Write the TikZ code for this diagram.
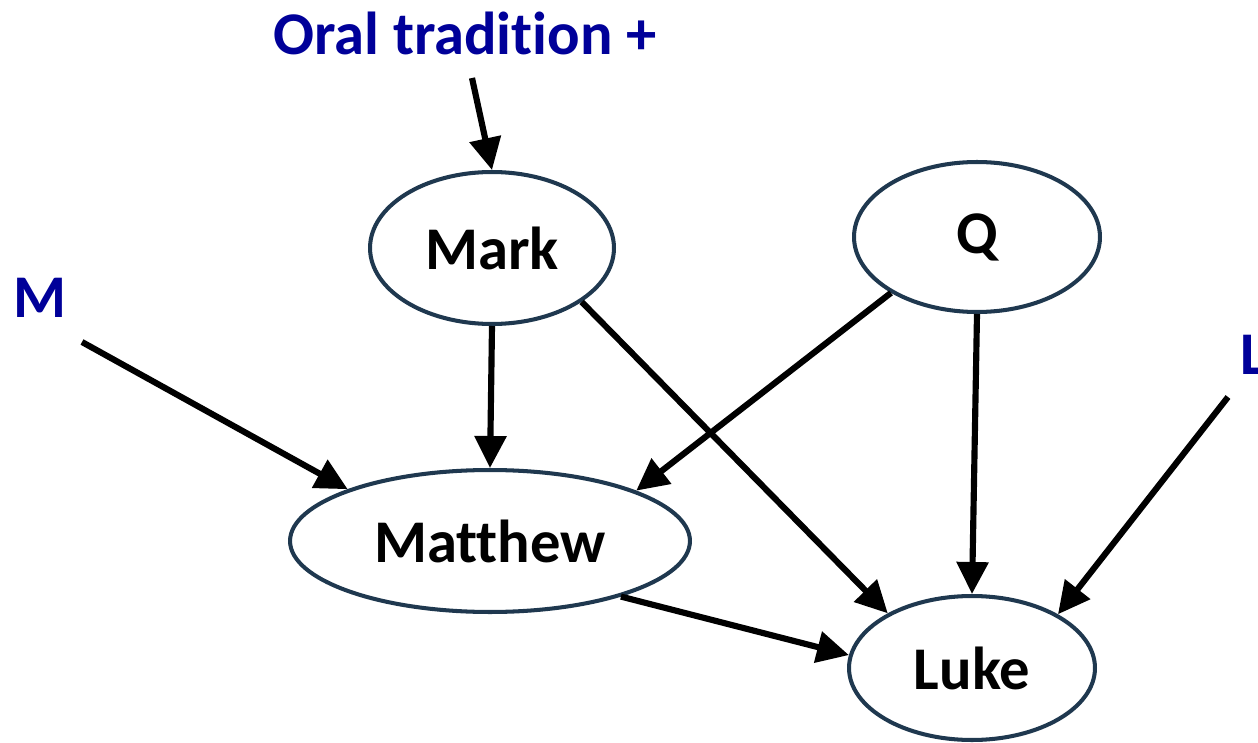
\documentclass[tikz,border=0pt]{standalone}
\usepackage{fontspec}
\setmainfont{Carlito}[Ligatures=NoCommon]
\usetikzlibrary{shapes.geometric,arrows.meta}
\definecolor{srcblue}{RGB}{0,0,153}
\definecolor{rim}{RGB}{31,56,79}
\begin{document}
\begin{tikzpicture}[
        x=0.02cm, y=-0.02cm, % one unit = one pixel of the picture
        gospel/.style = {ellipse, draw=rim, line width=2.3pt, inner sep=0pt,
            font=\fontsize{34.5}{40}\selectfont\bfseries}, % gospel nodes
        source/.style = {text=srcblue, inner sep=0pt,
            font=\fontsize{34.5}{40}\selectfont\bfseries}, % outside sources
        link/.style = {draw, line width=3.5pt, -{Triangle[length=0.64cm, width=0.62cm]}},
    ]
    \useasboundingbox (0,0) rectangle (1258,743);

    \node[gospel, minimum width=4.88cm, minimum height=3.04cm] (mark) at (492,248) {Mark};
    \node[gospel, minimum width=4.92cm, minimum height=3.0cm] (q) at (977,237) {Q};
    \node[gospel, minimum width=8.0cm, minimum height=2.84cm] (matthew) at (490,541) {Matthew};
    \node[gospel, minimum width=4.92cm, minimum height=2.88cm] (luke) at (972,668) {Luke};

    \node[source] (oral) at (465,33) {Oral tradit\kern0pt ion +};
    \node[source] (m) at (40,298) {M};
    \node[source, anchor=west] (l) at (1240,355) {L};

    \coordinate (oraltail) at (472,78);
    \coordinate (mtail) at (82,342);
    \coordinate (ltail) at (1228,397);

    \path[link] (oraltail) -- (mark.north);
    \path[link] (mtail) -- (matthew.160);
    \path[link] (mark.south) -- (matthew.north);
    \path[link] (mark.-31) -- (luke.147);
    \path[link] (q.213) -- (matthew.19);
    \path[link] (q.south) -- (luke.north);
    \path[link] (ltail) -- (luke.32);
    \path[link] (matthew.-23) -- (luke.174);

\end{tikzpicture}
\end{document}
